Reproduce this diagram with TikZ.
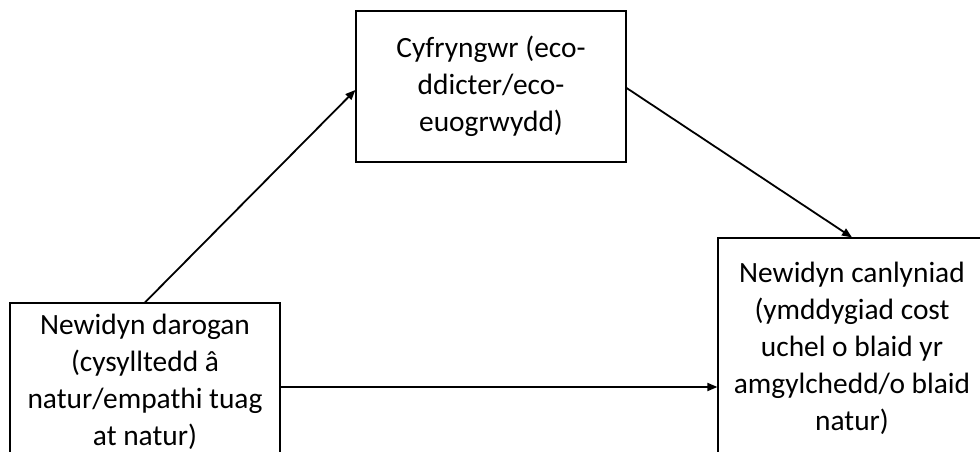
\documentclass[tikz,border=0pt]{standalone}
\usepackage{fontspec}
\setmainfont{Carlito}
\usetikzlibrary{arrows.meta}
\begin{document}
\begin{tikzpicture}
    [x=1pt, y=-1pt,
    font=\fontsize{29.4}{37}\selectfont,
    box/.style={draw=black, line width=1.2pt, align=center, inner sep=0pt},
    link/.style={draw=black, line width=1.8pt, -{Triangle[length=10pt, width=8pt]}}]
    \useasboundingbox (0,0) rectangle (980,452);
    \clip (0,0) rectangle (980,452);
    \node [box, minimum width=270pt, minimum height=151pt] (med) at (491,86.5)
        {Cyfryngwr (eco-\\ddicter/eco-\\euogrwydd)};
    \node [box, minimum width=270pt, minimum height=158pt] (pred) at (145,382)
        {Newidyn darogan\\(cysylltedd â\\natur/empathi tuag\\at natur)};
    \node [box, minimum width=268pt, minimum height=220pt] (out) at (852,348)
        {Newidyn canlyniad\\(ymddygiad cost\\uchel o blaid yr\\amgylchedd/o blaid\\natur)};
    \draw [link] (pred.north) -- ([yshift=-3.5pt]med.west);
    \draw [link] ([yshift=-1.5pt]med.east) -- (out.north);
    \draw [link] ([yshift=-5pt]pred.east) -- ([yshift=-5pt]pred.east -| out.west);
\end{tikzpicture}
\end{document}
